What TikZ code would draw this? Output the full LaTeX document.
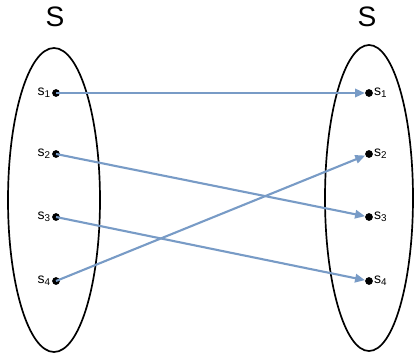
\documentclass[tikz,border=0pt]{standalone}
\usepackage{fontspec}
\setmainfont{Liberation Sans}
\usepackage{tikz}
\usetikzlibrary{arrows.meta}
\definecolor{mapblue}{RGB}{120,155,198}
\tikzset{
  pt/.style={circle,fill=black,inner sep=0pt,minimum size=5.5pt},
  maparrow/.style={-{Triangle[length=7pt,width=6pt]},line width=1.5pt,mapblue},
  lbl/.style={font=\fontsize{10}{11}\selectfont,inner sep=0.5pt}
}

\begin{document}
\begin{tikzpicture}[x=0.025cm,y=0.025cm]
    \useasboundingbox (0,0) rectangle (414,358);
    \draw[line width=1.2pt] (54,158) ellipse [x radius=46, y radius=152];
    \draw[line width=1.2pt] (369,160) ellipse [x radius=44, y radius=153];
    \node[font=\fontsize{20}{22}\selectfont] (setA) at (55,341) {S};
    \node[font=\fontsize{20}{22}\selectfont] (setB) at (367,341) {S};
    \foreach \i/\y in {1/265,2/204,3/141,4/77} {
      \node[pt,label={[lbl]left:s\textsubscript{\i}}] (a\i) at (56,\y) {};
      \node[pt,label={[lbl]right:s\textsubscript{\i}}] (b\i) at (369,\y) {};
    }
    \draw[maparrow] (a1.center) -- (b1);
    \draw[maparrow] (a2.center) -- (b3);
    \draw[maparrow] (a3.center) -- (b4);
    \draw[maparrow] (a4.center) -- (b2);
  \end{tikzpicture}
\end{document}
